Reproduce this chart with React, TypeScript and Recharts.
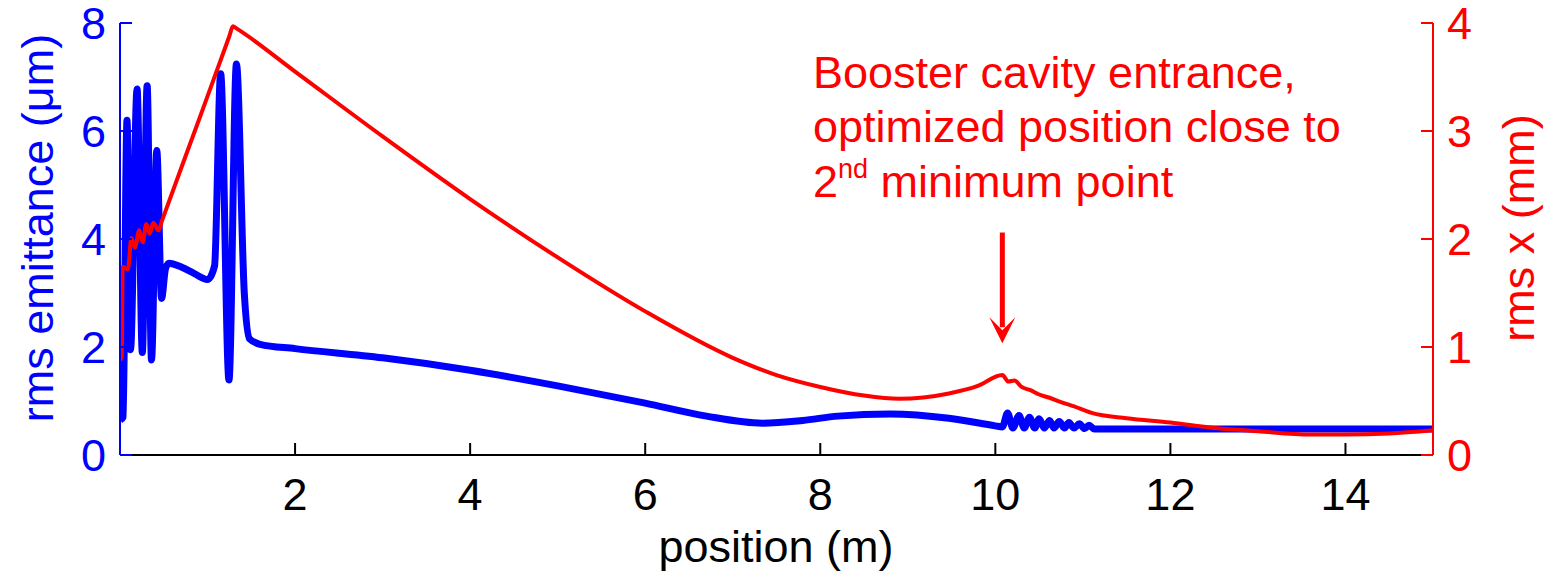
import React from "react";
import { LineChart, Line, XAxis, YAxis, ReferenceLine, Customized } from "recharts";

// rms emittance (um), left axis
const emitX = [
  0.005, 0.035, 0.08, 0.12, 0.195, 0.255, 0.31, 0.36, 0.42, 0.475, 0.52, 0.56, 0.7, 0.85, 1.0, 1.08,
  1.15, 1.245, 1.33, 1.42, 1.48, 1.6, 2, 3, 4, 5, 6, 6.7, 7.34, 7.8, 8.2, 8.8, 9.47, 10.0, 10.08,
  10.14, 10.2, 10.27, 10.33, 10.39, 10.45, 10.5, 10.56, 10.62, 10.67, 10.73, 10.79, 10.84, 10.9,
  10.96, 11.02, 11.07, 11.13, 12, 13, 14, 15,
];
const emitY = [
  0.65, 0.7, 6.2, 1.95, 6.78, 1.9, 6.84, 1.76, 5.64, 2.9, 3.45, 3.55, 3.48, 3.36, 3.25, 3.5,
  7.06, 1.39, 7.24, 3.0, 2.15, 2.05, 1.97, 1.8, 1.57, 1.28, 0.96, 0.72, 0.59, 0.64, 0.72, 0.76, 0.68, 0.54, 0.52,
  0.78, 0.5, 0.73, 0.5, 0.7, 0.5, 0.67, 0.5, 0.64, 0.5, 0.62, 0.5, 0.6, 0.5,
  0.58, 0.49, 0.55, 0.48, 0.48, 0.48, 0.48, 0.48,
];

// rms x (mm), right axis
const sizeX = [
  0, 0.02, 0.03, 0.09, 0.13, 0.17, 0.22, 0.26, 0.3, 0.34, 0.38, 0.44, 0.48, 0.9, 1.25, 1.29, 1.33,
  2, 3, 4, 5, 6, 7, 7.5, 8, 8.5, 8.9, 9.47, 9.8, 10.08, 10.15, 10.22, 10.3, 10.4, 10.5, 10.62,
  10.75, 10.9, 11.1, 11.5, 12, 12.5, 13, 13.6, 14, 14.5, 15,
];
const sizeY = [
  0.88, 0.9, 1.74, 1.72, 2.01, 1.92, 2.08, 1.97, 2.14, 2.05, 2.15, 2.08, 2.17, 3.1, 3.88, 3.97, 3.95,
  3.55, 2.95, 2.37, 1.83, 1.33, 0.9, 0.74, 0.63, 0.55, 0.52, 0.57, 0.64, 0.74, 0.68, 0.69, 0.63, 0.6, 0.56, 0.53,
  0.49, 0.45, 0.39, 0.34, 0.3, 0.25, 0.22, 0.19, 0.19, 0.2, 0.23,
];

const xTicks = [2, 4, 6, 8, 10, 12, 14];
const emitTicks = [0, 2, 4, 6, 8];
const sizeTicks = [0, 1, 2, 3, 4];

const noteLines = ["Booster cavity entrance,", "optimized position close to"];
const arrowX = 10.08;
const arrowFrom = 4.12;
const arrowTo = 2.07;

const BLUE = "#0000ff";
const RED = "#ff0000";
const FONT = '"Liberation Sans", Arial, Helvetica, sans-serif';
const FS = 45;

const emitData = emitX.map((x, i) => ({ x, y: emitY[i] }));
const sizeData = sizeX.map((x, i) => ({ x, y: sizeY[i] }));

function BottomTick({ x, y, payload }: any) {
  return (
    <g>
      <line x1={x} y1={y} x2={x} y2={y - 12} stroke="#000" strokeWidth={2} />
      <text x={x} y={y + 55} textAnchor="middle" fontSize={FS} fontFamily={FONT} fill="#000">
        {payload.value}
      </text>
    </g>
  );
}

function TopTick({ x, y }: any) {
  return <line x1={x} y1={y} x2={x} y2={y + 12} stroke="#000" strokeWidth={2} />;
}

function LeftTick({ x, y, payload }: any) {
  return (
    <g>
      <line x1={x} y1={y} x2={x + 12} y2={y} stroke={BLUE} strokeWidth={2} />
      <text x={x - 14} y={y + 16} textAnchor="end" fontSize={FS} fontFamily={FONT} fill={BLUE}>
        {payload.value}
      </text>
    </g>
  );
}

function RightTick({ x, y, payload }: any) {
  return (
    <g>
      <line x1={x} y1={y} x2={x - 12} y2={y} stroke={RED} strokeWidth={2} />
      <text x={x + 14} y={y + 16} textAnchor="start" fontSize={FS} fontFamily={FONT} fill={RED}>
        {payload.value}
      </text>
    </g>
  );
}

function Arrow({ x1, y1, x2, y2 }: any) {
  return (
    <g>
      <line x1={x1} y1={y1} x2={x2} y2={y2 - 16} stroke={RED} strokeWidth={5} />
      <polygon
        points={`${x2 - 13},${y2 - 26} ${x2},${y2 - 13} ${x2 + 13},${y2 - 26} ${x2},${y2}`}
        fill={RED}
      />
    </g>
  );
}

function Texts() {
  return (
    <g fontFamily={FONT} fontSize={FS}>
      <text x={813} y={88} fill={RED}>{noteLines[0]}</text>
      <text x={813} y={142} fill={RED}>{noteLines[1]}</text>
      <text x={813} y={197} fill={RED}>
        2<tspan fontSize={27} dy={-19}>nd</tspan>
        <tspan dy={19}> minimum point</tspan>
      </text>
      <text x={776} y={562} textAnchor="middle" fill="#000">position (m)</text>
      <text transform="translate(53,228) rotate(-90)" textAnchor="middle" fill={BLUE}>
        rms emittance (μm)
      </text>
      <text transform="translate(1534,228) rotate(-90)" textAnchor="middle" fill={RED}>
        rms x (mm)
      </text>
    </g>
  );
}

export default function App() {
  return (
    <div style={{ width: 1546, height: 573, background: "#fff" }}>
      <style>{"body{margin:0}"}</style>
      <LineChart width={1546} height={573} margin={{ top: 23, right: 0, bottom: 0, left: 0 }}>
        <XAxis
          xAxisId="bottom"
          dataKey="x"
          type="number"
          domain={[0, 15]}
          ticks={xTicks}
          height={118}
          tickSize={0}
          tickMargin={0}
          tick={<BottomTick />}
          axisLine={{ stroke: "#000", strokeWidth: 2 }}
          allowDataOverflow
        />
        <XAxis
          xAxisId="top"
          orientation="top"
          dataKey="x"
          type="number"
          domain={[0, 15]}
          ticks={xTicks}
          height={0}
          tickSize={0}
          tickMargin={0}
          tick={<TopTick />}
          axisLine={{ stroke: "#000", strokeWidth: 2 }}
          allowDataOverflow
        />
        <YAxis
          yAxisId="left"
          type="number"
          domain={[0, 8]}
          ticks={emitTicks}
          width={120}
          tickSize={0}
          tickMargin={0}
          tick={<LeftTick />}
          axisLine={{ stroke: BLUE, strokeWidth: 2 }}
          allowDataOverflow
        />
        <YAxis
          yAxisId="right"
          orientation="right"
          type="number"
          domain={[0, 4]}
          ticks={sizeTicks}
          width={113}
          tickSize={0}
          tickMargin={0}
          tick={<RightTick />}
          axisLine={{ stroke: RED, strokeWidth: 2 }}
          allowDataOverflow
        />
        <Line
          xAxisId="bottom"
          yAxisId="left"
          data={emitData}
          dataKey="y"
          type="monotone"
          stroke={BLUE}
          strokeWidth={7}
          dot={false}
          isAnimationActive={false}
        />
        <Line
          xAxisId="bottom"
          yAxisId="right"
          data={sizeData}
          dataKey="y"
          type="monotone"
          stroke={RED}
          strokeWidth={4}
          dot={false}
          isAnimationActive={false}
        />
        <ReferenceLine
          xAxisId="bottom"
          yAxisId="left"
          segment={[
            { x: arrowX, y: arrowFrom },
            { x: arrowX, y: arrowTo },
          ]}
          shape={(p: any) => <Arrow {...p} />}
        />
        <Customized component={Texts} />
      </LineChart>
    </div>
  );
}
